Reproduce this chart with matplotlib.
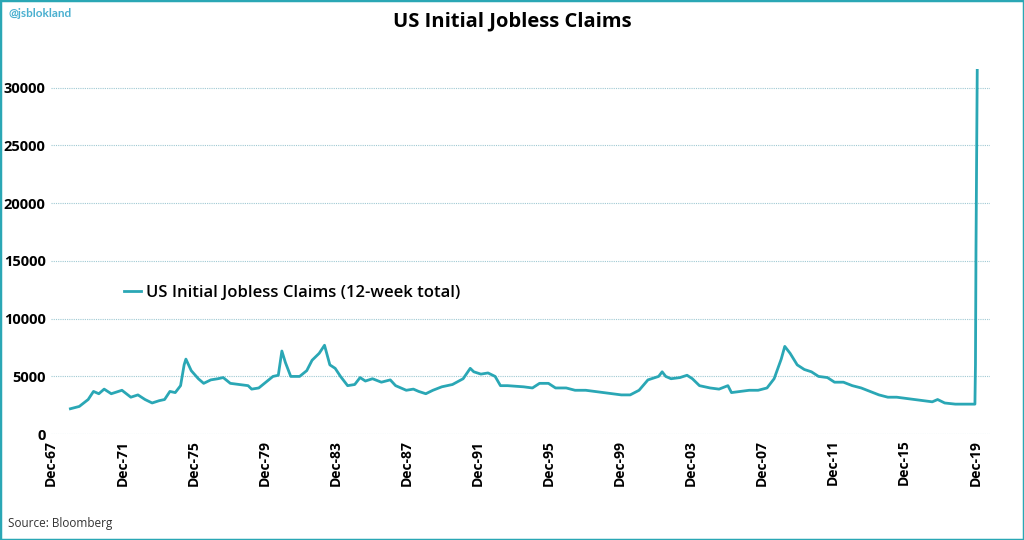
import matplotlib
matplotlib.use("Agg")
import matplotlib.pyplot as plt
from matplotlib.patches import Rectangle

years = [1969.0,1969.5,1970.0,1970.3,1970.6,1970.9,1971.3,1971.9,1972.4,1972.8,1973.2,1973.6,1974.0,1974.3,1974.6,1974.9,1975.2,1975.4,1975.5,1975.8,1976.2,1976.5,1976.9,1977.3,1977.6,1978.0,1978.5,1979.0,1979.2,1979.6,1980.0,1980.4,1980.7,1980.9,1981.1,1981.4,1981.9,1982.3,1982.6,1983.0,1983.3,1983.6,1983.9,1984.2,1984.6,1985.0,1985.3,1985.6,1986.0,1986.5,1987.0,1987.3,1987.9,1988.3,1988.6,1989.0,1989.4,1989.9,1990.5,1991.1,1991.5,1991.7,1992.1,1992.5,1992.9,1993.2,1993.6,1994.5,1995.0,1995.4,1995.9,1996.3,1996.9,1997.4,1998.0,1998.5,1999.0,1999.5,2000.0,2000.5,2001.0,2001.5,2002.1,2002.3,2002.5,2002.8,2003.3,2003.7,2004.0,2004.4,2005.0,2005.5,2006.0,2006.2,2006.7,2007.2,2007.7,2008.2,2008.6,2009.0,2009.2,2009.5,2009.9,2010.3,2010.7,2011.1,2011.6,2012.0,2012.5,2013.0,2013.5,2014.0,2014.5,2015.0,2015.5,2016.0,2016.5,2017.0,2017.5,2017.8,2018.2,2018.8,2019.5,2019.8,2019.9,2019.93,2019.96,2020.0,2020.03]
claims = [2200,2400,3000,3700,3500,3900,3500,3800,3200,3400,3000,2700,2900,3000,3700,3600,4200,6000,6500,5500,4800,4400,4700,4800,4900,4400,4300,4200,3900,4000,4500,5000,5100,7200,6200,5000,5000,5500,6400,7000,7700,6000,5700,5000,4200,4300,4900,4600,4800,4500,4700,4200,3800,3900,3700,3500,3800,4100,4300,4800,5700,5400,5200,5300,5000,4200,4200,4100,4000,4400,4400,4000,4000,3800,3800,3700,3600,3500,3400,3400,3800,4700,5000,5400,5000,4800,4900,5100,4800,4200,4000,3900,4200,3600,3700,3800,3800,4000,4800,6500,7600,7000,6000,5600,5400,5000,4900,4500,4500,4200,4000,3700,3400,3200,3200,3100,3000,2900,2800,3000,2700,2600,2600,2600,2600,6000,16000,25000,31500]

tick_years = list(range(1967, 2020, 4))
tick_labels = ["Dec-%02d" % (y % 100) for y in tick_years]

teal = "#2aa7b5"
fig = plt.figure(figsize=(10.24, 5.40), dpi=100)
ax = fig.add_axes([0.05, 0.196, 0.917, 0.71])
ax.plot(years, claims, color=teal, lw=2, label="US Initial Jobless Claims (12-week total)")
ax.set_xlim(1967.92, 1967.92 + 52.84)
ax.set_ylim(0, 33200)
ax.set_xticks([y + 0.92 for y in tick_years])
ax.set_xticklabels(tick_labels, rotation=90, fontsize=10, fontweight="bold", family="Open Sans")
ax.set_yticks(range(0, 30001, 5000))
ax.set_yticklabels([str(v) for v in range(0, 30001, 5000)], fontsize=10.5, fontweight="bold", family="Open Sans")
ax.grid(axis="y", color="#9fc9d3", ls=(0, (1, 1)), lw=0.8)
for s in ax.spines.values():
    s.set_visible(False)
ax.tick_params(length=0, pad=4)
ax.legend(loc="center left", bbox_to_anchor=(0.062, 0.368), frameon=False, handlelength=1.0, handletextpad=0.3,
          prop={"family": "Open Sans", "size": 12, "weight": "semibold"})
fig.text(0.5, 0.96, "US Initial Jobless Claims", ha="center", va="center", fontsize=14.5, fontweight="bold", family="Open Sans")
fig.text(0.008, 0.975, "@jsblokland", ha="left", va="center", fontsize=8.5, fontweight="bold", color="#4ab0d0", family="Lato")
fig.text(0.008, 0.03, "Source: Bloomberg", ha="left", va="center", fontsize=8.5, family="Open Sans", color="#333")
fig.patches.append(Rectangle((0, 0), 1, 1, transform=fig.transFigure, fill=False, ec=teal, lw=2.5))
fig.savefig("out.png", dpi=100)
